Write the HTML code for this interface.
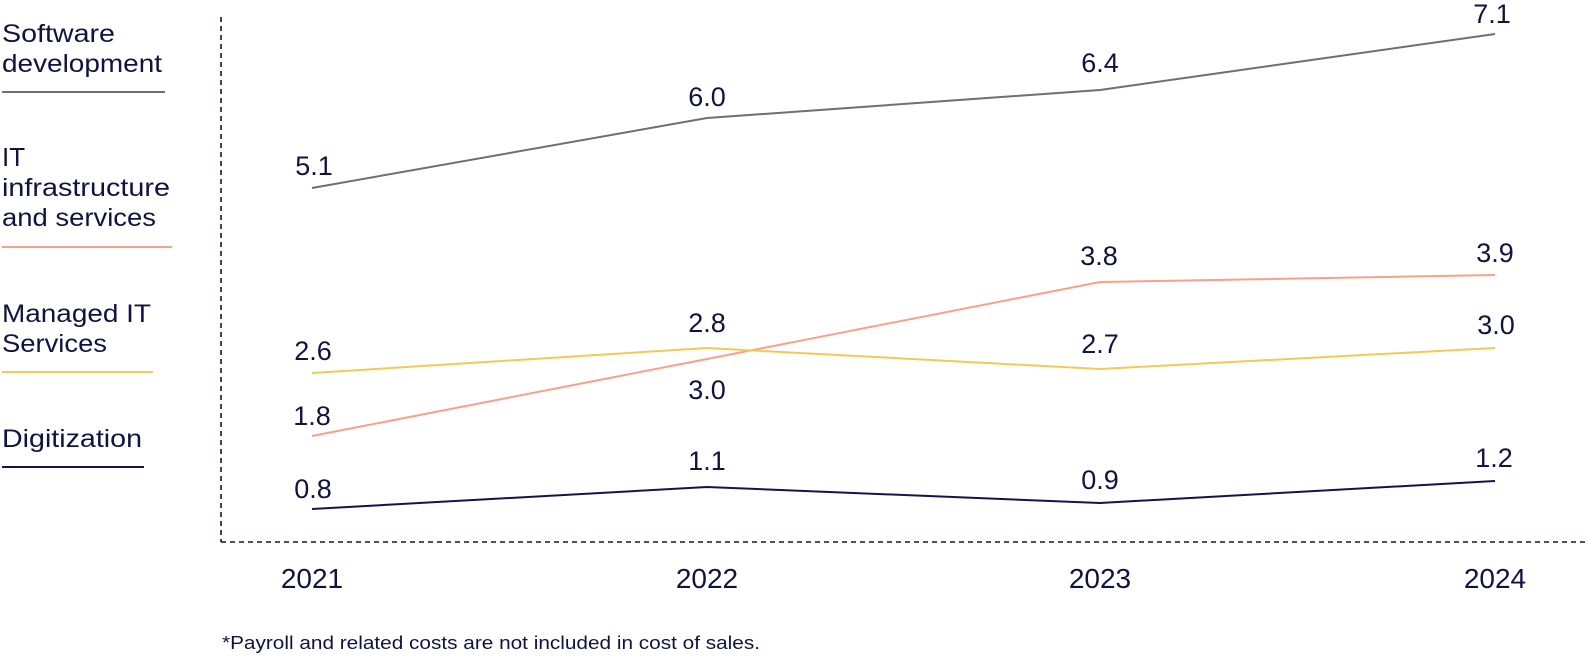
<!DOCTYPE html>
<html>
<head>
<meta charset="utf-8">
<style>
  html, body { margin: 0; padding: 0; background: #ffffff; }
  body { width: 1589px; height: 656px; overflow: hidden; }
  svg { display: block; }
  text { font-family: "Liberation Sans", "DejaVu Sans", sans-serif; fill: #0f1341; }
</style>
</head>
<body>
<svg width="1589" height="656" viewBox="0 0 1589 656" xmlns="http://www.w3.org/2000/svg">
  <!-- Legend -->
  <g font-size="25">
    <text x="2" y="42" textLength="113" lengthAdjust="spacingAndGlyphs">Software</text>
    <text x="2" y="72" textLength="160" lengthAdjust="spacingAndGlyphs">development</text>
    <line x1="2" y1="92" x2="165" y2="92" stroke="#6f6f6f" stroke-width="2"/>

    <text x="2" y="166" font-size="26">IT</text>
    <text x="2" y="196" textLength="168" lengthAdjust="spacingAndGlyphs">infrastructure</text>
    <text x="2" y="226" textLength="154" lengthAdjust="spacingAndGlyphs">and services</text>
    <line x1="2" y1="247" x2="172" y2="247" stroke="#f7a08a" stroke-width="2"/>

    <text x="2" y="322" textLength="149" lengthAdjust="spacingAndGlyphs">Managed IT</text>
    <text x="2" y="352" textLength="105" lengthAdjust="spacingAndGlyphs">Services</text>
    <line x1="2" y1="372" x2="153" y2="372" stroke="#f2ca55" stroke-width="2"/>

    <text x="2" y="447" textLength="140" lengthAdjust="spacingAndGlyphs">Digitization</text>
    <line x1="2" y1="467" x2="144" y2="467" stroke="#12154a" stroke-width="2"/>
  </g>

  <!-- Axes (dashed) -->
  <line x1="221" y1="17" x2="221" y2="542" stroke="#0f1341" stroke-width="1.6" stroke-dasharray="5,4"/>
  <line x1="221" y1="542" x2="1589" y2="542" stroke="#0f1341" stroke-width="1.6" stroke-dasharray="5,4"/>

  <!-- Series -->
  <polyline points="312,188 707,118 1100,90 1495,34" fill="none" stroke="#6f6f6f" stroke-width="2"/>
  <polyline points="312,436 707,359 1100,282 1495,275" fill="none" stroke="#f7a08a" stroke-width="2"/>
  <polyline points="312,373 707,348 1100,369 1495,348" fill="none" stroke="#f2ca55" stroke-width="2"/>
  <polyline points="312,509 707,487 1100,503 1495,481" fill="none" stroke="#12154a" stroke-width="2"/>

  <!-- Value labels -->
  <g font-size="27" text-anchor="middle">
    <text x="314" y="175">5.1</text>
    <text x="707" y="106">6.0</text>
    <text x="1100" y="72">6.4</text>
    <text x="1492" y="23">7.1</text>

    <text x="312" y="425">1.8</text>
    <text x="707" y="399">3.0</text>
    <text x="1099" y="265">3.8</text>
    <text x="1495" y="262">3.9</text>

    <text x="313" y="360">2.6</text>
    <text x="707" y="332">2.8</text>
    <text x="1100" y="353">2.7</text>
    <text x="1496" y="334">3.0</text>

    <text x="313" y="498">0.8</text>
    <text x="707" y="470">1.1</text>
    <text x="1100" y="489">0.9</text>
    <text x="1494" y="467">1.2</text>
  </g>

  <!-- Year labels -->
  <g font-size="28" text-anchor="middle">
    <text x="312" y="588">2021</text>
    <text x="707" y="588">2022</text>
    <text x="1100" y="588">2023</text>
    <text x="1495" y="588">2024</text>
  </g>

  <!-- Footnote -->
  <text x="222" y="649" font-size="18" textLength="538" lengthAdjust="spacingAndGlyphs">*Payroll and related costs are not included in cost of sales.</text>
</svg>
</body>
</html>
